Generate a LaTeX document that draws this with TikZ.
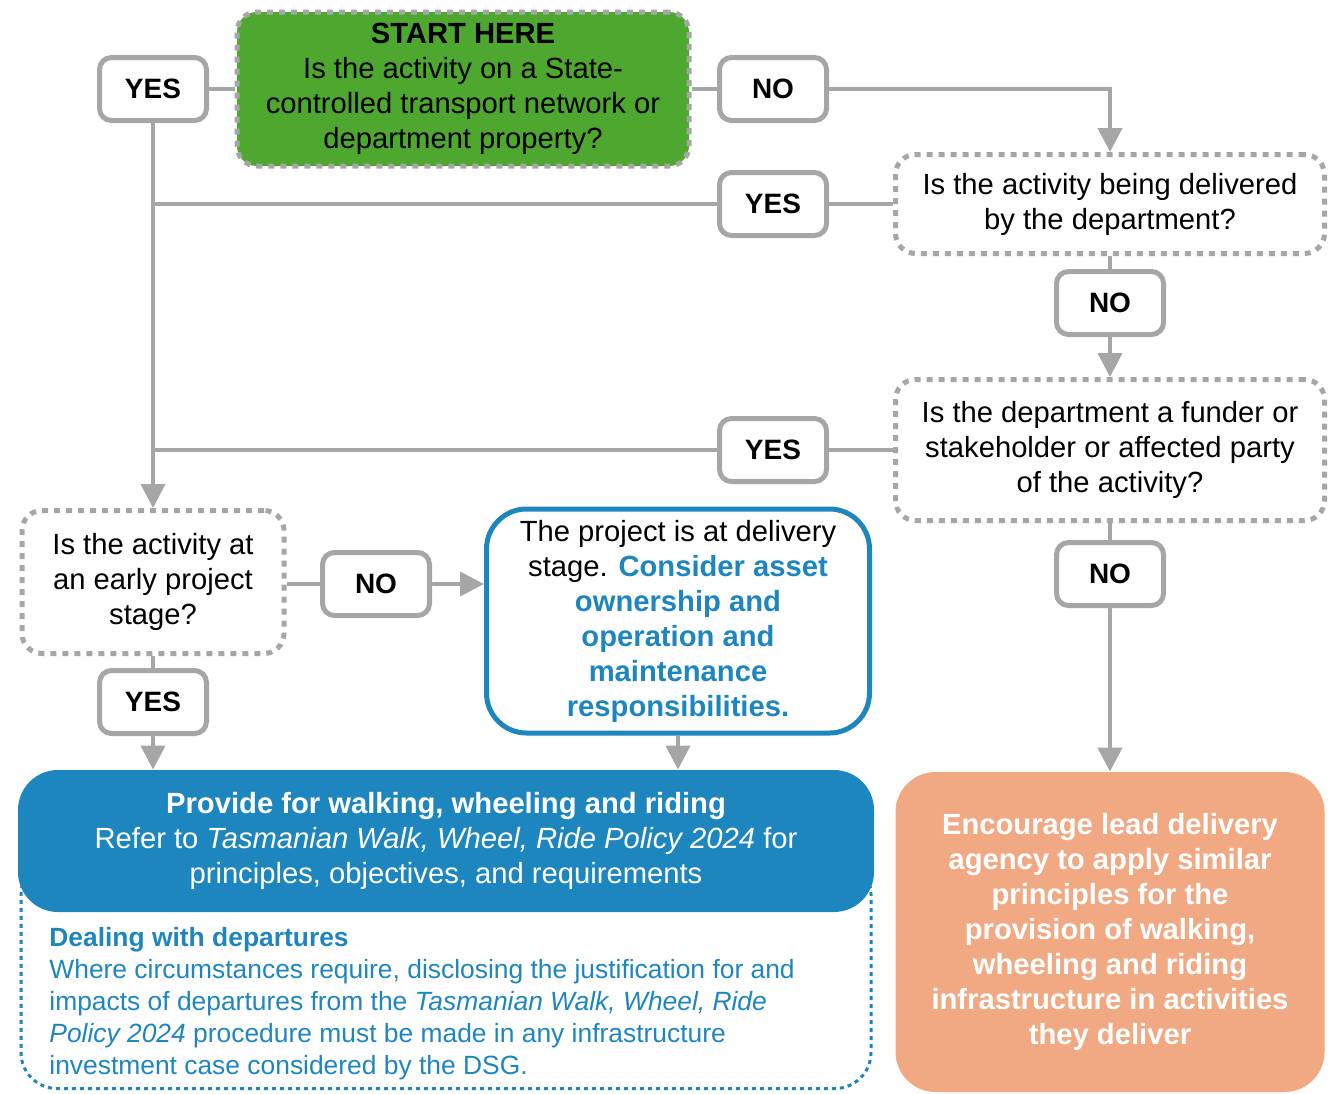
\documentclass[tikz,border=0pt]{standalone}
\usepackage{fontspec}
\setmainfont{Liberation Sans}
\usetikzlibrary{arrows.meta}

\definecolor{lineGray}{RGB}{166,166,166}
\definecolor{startGreen}{RGB}{78,167,46}
\definecolor{dsgBlue}{RGB}{30,134,190}
\definecolor{leadOrange}{RGB}{240,169,131}

\newcommand\bluebf[1]{\textcolor{dsgBlue}{\textbf{#1}}}

\begin{document}
\begin{tikzpicture}[x=0.5pt, y=-0.5pt,
  every node/.style={font=\fontsize{14.6}{17.5}\selectfont, align=center},
  answer/.style={draw=lineGray, line width=2.5pt, rounded corners=6pt, fill=white,
    minimum width=53.5pt, minimum height=31.5pt, font=\fontsize{14}{17}\selectfont\bfseries},
  question/.style={draw=lineGray, line width=2.5pt, dash pattern=on 3pt off 3pt,
    rounded corners=10pt, fill=white},
  line/.style={draw=lineGray, line width=2pt},
  arr/.style={line, -{Triangle[length=12pt, width=12pt]}},
]

  \useasboundingbox (0,0) rectangle (1334,1093);

  %% questions
  \node[question, fill=startGreen, minimum width=226pt, minimum height=77pt] (start) at (463,89)
    {\textbf{START HERE}\\Is the activity on a State-\\controlled transport network or\\department property?};
  \node[question, minimum width=214.5pt, minimum height=49.5pt] (q2) at (1110,204)
    {Is the activity being delivered\\by the department?};
  \node[question, minimum width=214.5pt, minimum height=70.5pt] (q3) at (1110,450)
    {Is the department a funder or\\stakeholder or affected party\\of the activity?};
  \node[question, minimum width=131pt, minimum height=71.5pt] (q4) at (153,582)
    {Is the activity at\\an early project\\stage?};

  %% answers
  \node[answer] (yes1) at (153,89) {YES};
  \node[answer] (no1) at (773,89) {NO};
  \node[answer] (yes2) at (773,204) {YES};
  \node[answer] (no2) at (1110,303) {NO};
  \node[answer] (yes3) at (773,450) {YES};
  \node[answer] (no3) at (1110,574) {NO};
  \node[answer] (no4) at (376,584) {NO};
  \node[answer] (yes4) at (153,702) {YES};

  %% outcomes
  \node[draw=dsgBlue, line width=2.5pt, rounded corners=20pt, fill=white,
    minimum width=191.5pt, minimum height=112pt] (delivery) at (678,621)
    {The project is at delivery\\stage. \bluebf{Consider asset}\\\bluebf{ownership and}\\
     \bluebf{operation and}\\\bluebf{maintenance}\\\bluebf{responsibilities.}};

  \node[draw=dsgBlue, line width=1.5pt, dash pattern=on 2pt off 2pt, rounded corners=18pt,
    minimum width=425pt, minimum height=115pt, anchor=south] (departframe) at (446,1090) {};
  \node[fill=dsgBlue, rounded corners=20pt, minimum width=428pt, minimum height=71pt,
    text=white] (provide) at (446,841)
    {\textbf{Provide for walking, wheeling and riding}\\
     Refer to \textit{Tasmanian Walk, Wheel, Ride Policy 2024} for\\
     principles, objectives, and requirements};
  \node[anchor=north west, inner sep=0pt, align=left, text=dsgBlue,
    font=\fontsize{13.2}{16}\selectfont] (departtext) at (49,927)
    {\textbf{Dealing with departures}\\
     Where circumstances require, disclosing the justification for and\\
     impacts of departures from the \textit{Tasmanian Walk, Wheel, Ride}\\
     \textit{Policy 2024} procedure must be made in any infrastructure\\
     investment case considered by the DSG.};

  \node[fill=leadOrange, rounded corners=20pt, minimum width=214.5pt, minimum height=160pt,
    text=white, font=\fontsize{14.6}{17.5}\selectfont\bfseries] (encourage) at (1110,932)
    {Encourage lead delivery\\agency to apply similar\\principles for the\\provision of walking,\\
     wheeling and riding\\infrastructure in activities\\they deliver};

  %% connectors
  \draw[line] (start) -- (yes1);
  \draw[arr] (yes1) -- (q4); % yes -> early stage
  \draw[line] (start) -- (no1);
  \draw[arr] (no1) -| (q2);
  \draw[line] (q2) -- (yes2);
  \draw[line] (yes2) -- (yes2 -| yes1);
  \draw[line] (q2) -- (no2);
  \draw[arr] (no2) -- (q3);
  \draw[line] (q3) -- (yes3);
  \draw[line] (yes3) -- (yes3 -| yes1);
  \draw[line] (q3) -- (no3);
  \draw[arr] (no3) -- (encourage);
  \draw[line] (q4.east |- no4) -- (no4);
  \draw[arr] (no4) -- (no4 -| delivery.west);
  \draw[line] (q4) -- (yes4);
  \draw[arr] (yes4) -- (yes4 |- provide.north);
  \draw[arr] (delivery) -- (delivery |- provide.north);

\end{tikzpicture}
\end{document}
